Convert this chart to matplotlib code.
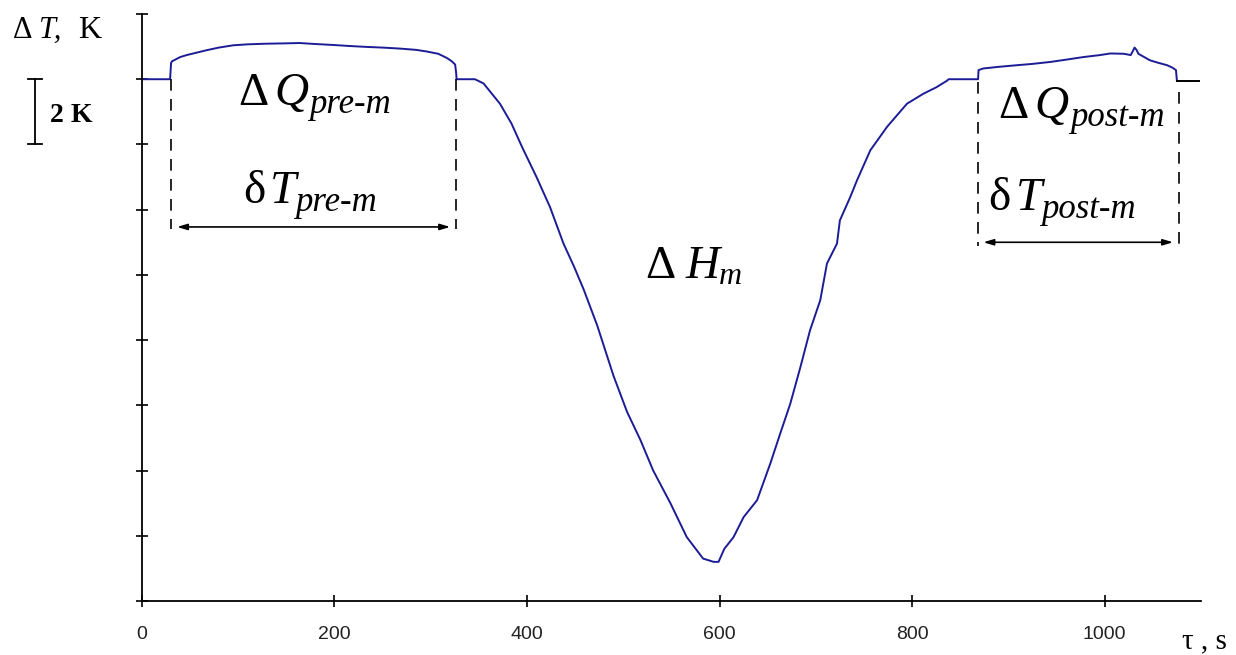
import matplotlib
matplotlib.use("Agg")
import matplotlib.pyplot as plt

# melting curve, tau in s, dT in K
tau = [0, 29.5, 30.5, 31.5, 40, 46.7, 55, 67.5, 80, 95, 110, 130, 150, 164, 180, 199,
       215, 234, 250, 268, 285, 296, 308, 317, 322, 325.5, 326.5, 327, 346,
       355, 372, 384, 395, 410, 424, 438, 449, 459, 473, 490, 504, 518, 531, 549, 566,
       583, 594, 599, 602, 605, 614.6, 625, 639, 652.7, 663, 673.5, 684, 694,
       704.6, 711.6, 722, 725, 735.8, 742.8, 756.6, 774, 794.7, 812, 825, 836, 838,
       868.5, 869, 874, 890, 909, 925, 943.6, 960, 978, 995, 1006, 1020, 1027,
       1029, 1031, 1033, 1035, 1047, 1056, 1064.8, 1070, 1074, 1075]
dT = [0, 0, 0.5, 0.55, 0.68, 0.74, 0.8, 0.89, 0.97, 1.04, 1.07, 1.09, 1.1, 1.11, 1.08, 1.05,
      1.02, 0.99, 0.97, 0.94, 0.9, 0.85, 0.78, 0.65, 0.55, 0.45, 0.2, 0, 0,
      -0.13, -0.75, -1.36, -2.08, -3.0, -3.92, -5.04, -5.75, -6.45, -7.55, -9.1, -10.2, -11.07, -11.99, -13.0, -14.04,
      -14.7, -14.8, -14.8, -14.6, -14.4, -14.04, -13.43, -12.91, -11.79, -10.87, -9.95, -8.83, -7.7,
      -6.78, -5.65, -5.04, -4.33, -3.61, -3.1, -2.18, -1.46, -0.75, -0.44, -0.25, -0.05, 0,
      0, 0.28, 0.33, 0.38, 0.43, 0.47, 0.53, 0.6, 0.68, 0.74, 0.79, 0.78, 0.74,
      0.85, 0.97, 0.9, 0.78, 0.58, 0.5, 0.43, 0.36, 0.28, -0.05]
tau_tail = [1075, 1098]
dT_tail = [-0.05, -0.05]

# interval markers: (start, end) of the dashed bounds and arrows
pre_bounds = [30.5, 326.5]
pre_arrow = [36.7, 320.3]
post_bounds = [868.5, 1077]
post_arrow = [874.0, 1071]

xticks = [0, 200, 400, 600, 800, 1000]
yticks = list(range(-16, 3, 2))

W, H = 1236, 655
fig = plt.figure(figsize=(W / 100, H / 100), dpi=100)
ax = fig.add_axes([141.7 / W, 1 - 601 / H, (1201 - 141.7) / W, (601 - 14) / H])
ax.set_xlim(0, 1100)
ax.set_ylim(-16, 2)

ax.plot(tau, dT, color='#1c1c96', linewidth=1.4)
ax.plot(tau_tail, dT_tail, color='black', linewidth=1.4)

dash = (0, (7, 5))
ax.plot([pre_bounds[0]] * 2, [0, -4.6], color='black', lw=1.2, ls=dash)
ax.plot([pre_bounds[1]] * 2, [0, -4.6], color='black', lw=1.2, ls=dash)
ax.plot([post_bounds[0]] * 2, [-0.1, -5.1], color='black', lw=1.2, ls=dash)
ax.plot([post_bounds[1]] * 2, [-0.4, -5.1], color='black', lw=1.2, ls=dash)

for (a, b), y in [(pre_arrow, -4.53), (post_arrow, -5.0)]:
    ax.annotate('', xy=(a, y), xytext=(b, y),
                arrowprops=dict(arrowstyle='<|-|>,head_length=0.6,head_width=0.18',
                                color='black', lw=1.2, shrinkA=0, shrinkB=0))

rend = fig.canvas.get_renderer()


def rich(x, y, parts):
    # parts: (text, style, size, drop px, gap px) drawn one after another
    off = 0
    for s, style, size, drop, gap in parts:
        off += gap
        t = ax.annotate(s, xy=(x, y), xytext=(off * 0.72, -drop * 0.72),
                        textcoords='offset points', fontsize=size, style=style,
                        family='Liberation Serif', va='baseline', ha='left')
        off += t.get_window_extent(rend).width


big, small = 34, 25
rich(100, -0.8, [('Δ', 'normal', big, 0, 0), ('Q', 'italic', big, 0, 6),
                 ('pre-m', 'italic', small, 8, 1)])
rich(105.2, -3.8, [('δ', 'normal', big, 0, 0), ('T', 'italic', big, 0, 5),
                   ('pre-m', 'italic', small, 8, -1)])
rich(522.8, -6.1, [('Δ', 'normal', big, 0, 0), ('H', 'italic', big, 0, 10),
                   ('m', 'italic', 23, 6, -1)])
rich(889.6, -1.2, [('Δ', 'normal', big, 0, 0), ('Q', 'italic', big, 0, 6),
                   ('post-m', 'italic', small, 8, 1)])
rich(879.2, -4.02, [('δ', 'normal', big, 0, 0), ('T', 'italic', big, 0, 5),
                    ('post-m', 'italic', small, 8, -1)])

# 2 K scale bar left of the axis
bar_x = -110.8
cap = 7.3
ax.plot([bar_x, bar_x], [0, -2], color='black', lw=1.3, clip_on=False)
ax.plot([bar_x - cap, bar_x + cap], [0, 0], color='black', lw=1.3, clip_on=False)
ax.plot([bar_x - cap, bar_x + cap], [-2, -2], color='black', lw=1.3, clip_on=False)
fig.text(50 / W, 1 - 122 / H, '2 K', fontsize=20, fontweight='bold',
         family='Liberation Serif', va='baseline')

fig.text(13 / W, 1 - 38 / H, 'Δ', fontsize=22, family='Liberation Serif', va='baseline')
fig.text(39 / W, 1 - 38 / H, 'T,', fontsize=22, style='italic', family='Liberation Serif', va='baseline')
fig.text(78 / W, 1 - 38 / H, 'K', fontsize=23, family='Liberation Serif', va='baseline')
fig.text(1182 / W, 1 - 648 / H, 'τ , s', fontsize=21,
         family='Liberation Serif', va='baseline')

ax.set_xticks(xticks)
ax.set_xticklabels([str(t) for t in xticks], family='Liberation Sans', fontsize=14, color='#222222')
ax.set_yticks(yticks)
ax.set_yticklabels([])
ax.tick_params(direction='inout', length=8.5, width=1.2, color='black', pad=13.5)
for s in ['top', 'right']:
    ax.spines[s].set_visible(False)
for s in ['left', 'bottom']:
    ax.spines[s].set_linewidth(1.3)

fig.savefig('out.png', dpi=100)
